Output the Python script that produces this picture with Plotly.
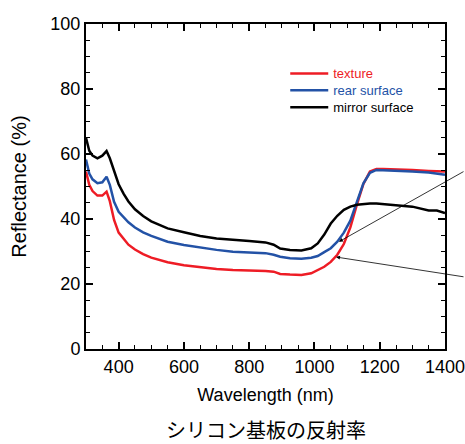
import plotly.graph_objects as go

wavelength = [300, 310, 320, 335, 350, 363, 373, 386, 400, 415, 430, 450, 475, 500,
              550, 600, 650, 700, 750, 800, 850, 875, 895, 925, 960, 990, 1010, 1030,
              1050, 1070, 1090, 1110, 1130, 1150, 1170, 1190, 1210, 1250, 1300, 1350,
              1375, 1400]

texture = [54.6, 50.5, 48.6, 47.2, 47.2, 48.4, 45.5, 39.7, 35.8, 33.8, 32.1, 30.6, 29.2, 28.1,
           26.7, 25.8, 25.1, 24.6, 24.3, 24.2, 24.0, 23.8, 23.1, 22.9, 22.8, 23.3, 24.2, 25.3,
           26.8, 29.0, 32.3, 37.4, 44.4, 50.8, 54.6, 55.4, 55.4, 55.3, 55.1, 54.8,
           54.7, 54.6]

rear_surface = [58.3, 54.0, 52.2, 51.0, 51.3, 53.0, 50.5, 45.3, 42.2, 40.5, 39.0, 37.4, 35.9, 34.8,
                33.0, 32.0, 31.2, 30.5, 29.9, 29.7, 29.5, 29.0, 28.4, 27.9, 27.8, 28.1, 28.6, 29.8,
                31.0, 33.0, 35.8, 39.5, 45.0, 51.0, 54.2, 55.1, 55.0, 54.9, 54.6, 54.3,
                53.9, 53.6]

mirror_surface = [65.0, 61.0, 59.5, 58.7, 59.5, 60.9, 58.7, 54.6, 50.7, 47.8, 45.4, 43.0, 40.9, 39.3,
                  37.1, 35.9, 34.8, 34.0, 33.5, 33.2, 32.8, 32.1, 30.9, 30.5, 30.3, 31.0, 32.5, 35.2,
                  38.6, 41.0, 42.8, 43.8, 44.4, 44.7, 44.8, 44.8, 44.6, 44.2, 43.8, 42.6,
                  42.6, 41.8]

series_names = ["texture", "rear surface", "mirror surface"]
series_colors = ["#ee1c25", "#2352a6", "#000000"]
x_ticks = [400, 600, 800, 1000, 1200, 1400]
y_ticks = [0, 20, 40, 60, 80, 100]

arrow_targets = [(1075, 33.0), (1066, 28.3)]

FONT = "Liberation Sans, Arial, sans-serif"

legend_ids = ["legend", "legend2", "legend3"]
legend_tops = [0.894, 0.842, 0.790]

fig = go.Figure()
for name, ys, col, lid in zip(series_names, [texture, rear_surface, mirror_surface],
                              series_colors, legend_ids):
    fig.add_trace(go.Scatter(
        x=wavelength, y=ys, mode="lines",
        name=f'<span style="color:{col}">{name}</span>',
        line=dict(color=col, width=2.5),
        legend=lid,
    ))

axis_common = dict(
    showline=True, linecolor="black", linewidth=2, mirror="allticks",
    ticks="inside", ticklen=7, tickwidth=1.5, tickcolor="black",
    showgrid=False, zeroline=False, automargin=False,
    ticklabeloverflow="allow",
    tickfont=dict(family=FONT, size=18, color="black"),
)

fig.update_xaxes(
    range=[300, 1400], tickvals=x_ticks,
    minor=dict(dtick=50, tick0=300, ticks="inside", ticklen=4, tickwidth=1.2, tickcolor="black"),
    title=dict(text="Wavelength (nm)", font=dict(family=FONT, size=18, color="black"), standoff=13),
    **axis_common,
)
fig.update_yaxes(
    range=[0, 100], tickvals=y_ticks,
    minor=dict(dtick=5, tick0=0, ticks="inside", ticklen=4, tickwidth=1.2, tickcolor="black"),
    title=dict(text="Reflectance (%)", font=dict(family=FONT, size=20, color="black"), standoff=18),
    **axis_common,
)

fig.add_annotation(x=arrow_targets[0][0], y=arrow_targets[0][1], text="", showarrow=True,
                   ax=140, ay=-71, arrowhead=2, arrowsize=1, arrowwidth=0.8, arrowcolor="black")
fig.add_annotation(x=arrow_targets[1][0], y=arrow_targets[1][1], text="", showarrow=True,
                   ax=140, ay=20, arrowhead=2, arrowsize=1, arrowwidth=0.8, arrowcolor="black")

fig.add_annotation(text="シリコン基板の反射率", xref="paper", yref="paper",
                   x=0.5, y=-0.249, xanchor="center", yanchor="middle", showarrow=False,
                   font=dict(family="Noto Sans CJK JP", size=20, color="black"))

legend_layout = {}
for lid, top in zip(legend_ids, legend_tops):
    legend_layout[lid] = dict(x=0.555, y=top, xanchor="left", yanchor="top",
                              bgcolor="rgba(0,0,0,0)", borderwidth=0, itemwidth=38,
                              font=dict(family=FONT, size=13, color="black"))

fig.update_layout(
    width=465, height=444,
    margin=dict(l=86, r=20, t=24, b=95, autoexpand=False),
    paper_bgcolor="white", plot_bgcolor="white",
    showlegend=True,
    **legend_layout,
)

fig.write_html("out.html", config={"displayModeBar": False},
               post_script="document.body.style.margin='0';document.body.style.overflow='hidden';")
